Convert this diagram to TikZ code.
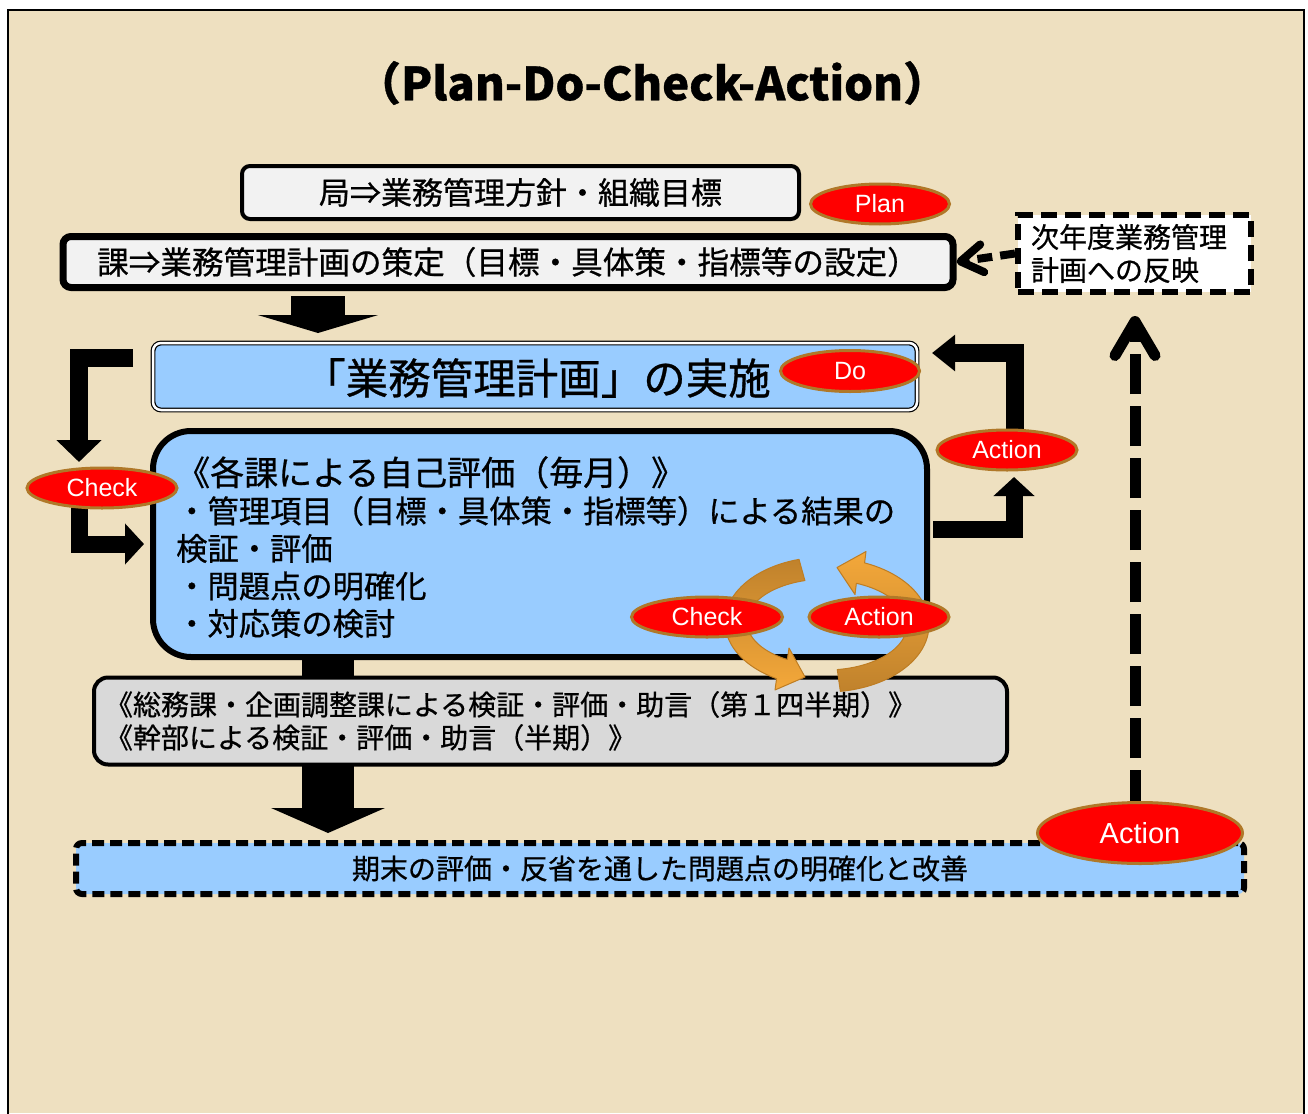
\documentclass[tikz,border=0pt]{standalone}
\usepackage{fontspec}
\setmainfont{Noto Sans CJK JP}[FakeBold=0.7]
\newfontfamily\latf{Liberation Sans}
\usetikzlibrary{arrows.meta,shapes.geometric}
\definecolor{parch}{RGB}{238,224,192}
\definecolor{lblue}{RGB}{153,204,255}
\definecolor{lgray}{RGB}{242,242,242}
\definecolor{mgray}{RGB}{217,217,217}
\definecolor{ellred}{RGB}{255,0,0}
\definecolor{ellrim}{RGB}{176,120,40}
\definecolor{orgdark}{RGB}{192,130,44}
\definecolor{orglight}{RGB}{244,168,58}
\definecolor{orgrim}{RGB}{190,125,35}
\newcommand{\fs}[2]{\fontsize{#1}{#2}\selectfont}
\tikzset{
  oval/.style={ellipse, fill=ellred, draw=ellrim, line width=3pt, inner sep=0pt, text=white, font=\latf\fs{25}{30}},
  wbox/.style={draw=black, fill=lgray, rounded corners=8pt, inner sep=0pt},
  bbox/.style={draw=black, fill=lblue, inner sep=0pt},
  blk/.style={draw=black, line join=miter, line cap=butt},
  dsh/.style={draw=black, line cap=butt}
}
\begin{document}
\begin{tikzpicture}[x=1pt,y=-1pt]
\useasboundingbox (0,0) rectangle (1308,1113);
\fill[white] (0,0) rectangle (1308,1113);
\fill[parch] (8,10) rectangle (1304,1113);
\draw[line width=2.5pt] (8,1130) -- (8,10) -- (1304,10) -- (1304,1130);

% title
\node[font=\bfseries\fs{45.5}{52}] (title) at (652,83) {（Plan-Do-Check-Action）};

% boxes
\node[wbox, line width=4pt, minimum width=557pt, minimum height=53pt, font=\fs{31}{36}] (kyoku) at (520.5,192.5)
  {局⇒業務管理方針・組織目標};
\node[wbox, line width=7pt, minimum width=890pt, minimum height=51pt, font=\fs{31.6}{36}] (ka) at (508,262)
  {課⇒業務管理計画の策定（目標・具体策・指標等の設定）};
\node[draw=black, fill=white, line width=6pt, dash pattern=on 16pt off 8pt, minimum width=233pt, minimum height=77pt, text width=207pt, align=left, inner sep=0pt, font=\fs{28}{33}] (next) at (1134.5,253.5)
  {次年度業務管理\\計画への反映};
\node[bbox, rounded corners=8pt, line width=1.2pt, double=white, double distance=2.5pt, minimum width=764pt, minimum height=67pt] (do) at (535,376.5) {};
\node[font=\fs{42.5}{48}, inner sep=0pt] (dotext) at (537,378) {「業務管理計画」の実施};
\node[bbox, rounded corners=38pt, line width=6pt, minimum width=774pt, minimum height=226pt] (self) at (540,544) {};
\node[anchor=north west, inner sep=0pt, align=left, font=\fs{31.3}{37.5}] (selftext) at (176,456)
  {{\fs{34}{37.5}《各課による自己評価（毎月）》}\\
   ・管理項目（目標・具体策・指標等）による結果の\\
   検証・評価\\
   ・問題点の明確化\\
   ・対応策の検討};
\draw[blk, line width=52pt] (328,657) coordinate (s1) -- (328,676) coordinate (s2);
\node[draw=black, fill=mgray, rounded corners=14pt, line width=4pt, minimum width=913pt, minimum height=87pt, text width=891pt, align=left, inner sep=0pt, font=\fs{28}{33}] (gray) at (550.5,721)
  {《総務課・企画調整課による検証・評価・助言（第１四半期）》\\《幹部による検証・評価・助言（半期）》};
\node[bbox, rounded corners=6pt, line width=6pt, dash pattern=on 12pt off 6pt, minimum width=1168pt, minimum height=51pt, font=\fs{28}{33}] (final) at (660,868.5)
  {期末の評価・反省を通した問題点の明確化と改善};

% black block arrows
\coordinate (a1s) at (318,296);
\coordinate (a1e) at (318,333);
\draw[blk, line width=54pt, -{Triangle[width=120pt,length=18pt]}] (a1s) -- (a1e);
\coordinate (a2s) at (328,765);
\coordinate (a2e) at (328,833);
\draw[blk, line width=52pt, -{Triangle[width=113pt,length=25pt]}] (a2s) -- (a2e);

\coordinate (ct0) at (133,358);
\coordinate (ct1) at (79,358);
\coordinate (ct2) at (79,462);
\draw[blk, line width=18pt, -{Triangle[width=44pt,length=22pt]}] (ct0) -- (ct1) -- (ct2);
\coordinate (cb0) at (79,500);
\coordinate (cb1) at (79,544);
\coordinate (cb2) at (144,544);
\draw[blk, line width=17pt, -{Triangle[width=40pt,length=19pt]}] (cb0) -- (cb1) -- (cb2);

\coordinate (ab0) at (933,529);
\coordinate (ab1) at (1014,529);
\coordinate (ab2) at (1014,477);
\draw[blk, line width=17pt, -{Triangle[width=40pt,length=19pt]}] (ab0) -- (ab1) -- (ab2);
\coordinate (at0) at (1015,440);
\coordinate (at1) at (1015,353);
\coordinate (at2) at (932,353);
\draw[blk, line width=18pt, -{Triangle[width=35pt,length=23pt]}] (at0) -- (at1) -- (at2);

% dashed arrows
\draw[dsh, line width=8pt, dash pattern=on 15pt off 8pt, -{Straight Barb[length=22pt,width=28pt,round]}] (next.west) -- (ka.east);
\coordinate (ru0) at (1135,810);
\coordinate (ru1) at (1135,316);
\draw[dsh, line width=11pt, dash pattern=on 40pt off 12pt, -{Straight Barb[length=34pt,width=40pt,round]}] (ru0) -- (ru1);

% circular orange arrows
\draw[top color=orgdark, bottom color=orglight, draw=orgrim, line width=1pt, line join=round]
  plot[domain=254.5:119.3, samples=50] ({826+101*cos(\x)},{622+65*sin(\x)})
  -- (775,690) -- (805,677) -- (789,648)
  -- plot[domain=119.3:254.5, samples=50] ({826+79*cos(\x)},{622+43*sin(\x)}) -- cycle;
\draw[top color=orglight, bottom color=orgdark, draw=orgrim, line width=1pt, line join=round]
  plot[domain=82:-68, samples=50] ({826+103*cos(\x)},{625+67*sin(\x)})
  -- (866,551.5) -- (837,567.5) -- (855,594.5)
  -- plot[domain=-68:82, samples=50] ({826+81*cos(\x)},{625+45*sin(\x)}) -- cycle;

% ellipses
\node[oval, minimum width=139pt, minimum height=40pt] (plan) at (880,204) {Plan};
\node[oval, minimum width=139pt, minimum height=41pt] (doel) at (850,371) {Do};
\node[oval, minimum width=150pt, minimum height=40pt] (check1) at (102,488) {Check};
\node[oval, minimum width=140pt, minimum height=40pt] (act1) at (1007,450) {Action};
\node[oval, minimum width=151pt, minimum height=40pt] (check2) at (707,617) {Check};
\node[oval, minimum width=140pt, minimum height=40pt] (act2) at (879,617) {Action};
\node[oval, minimum width=205pt, minimum height=61pt, font=\latf\fs{29}{34}] (act3) at (1140,833) {Action};
\end{tikzpicture}
\end{document}
